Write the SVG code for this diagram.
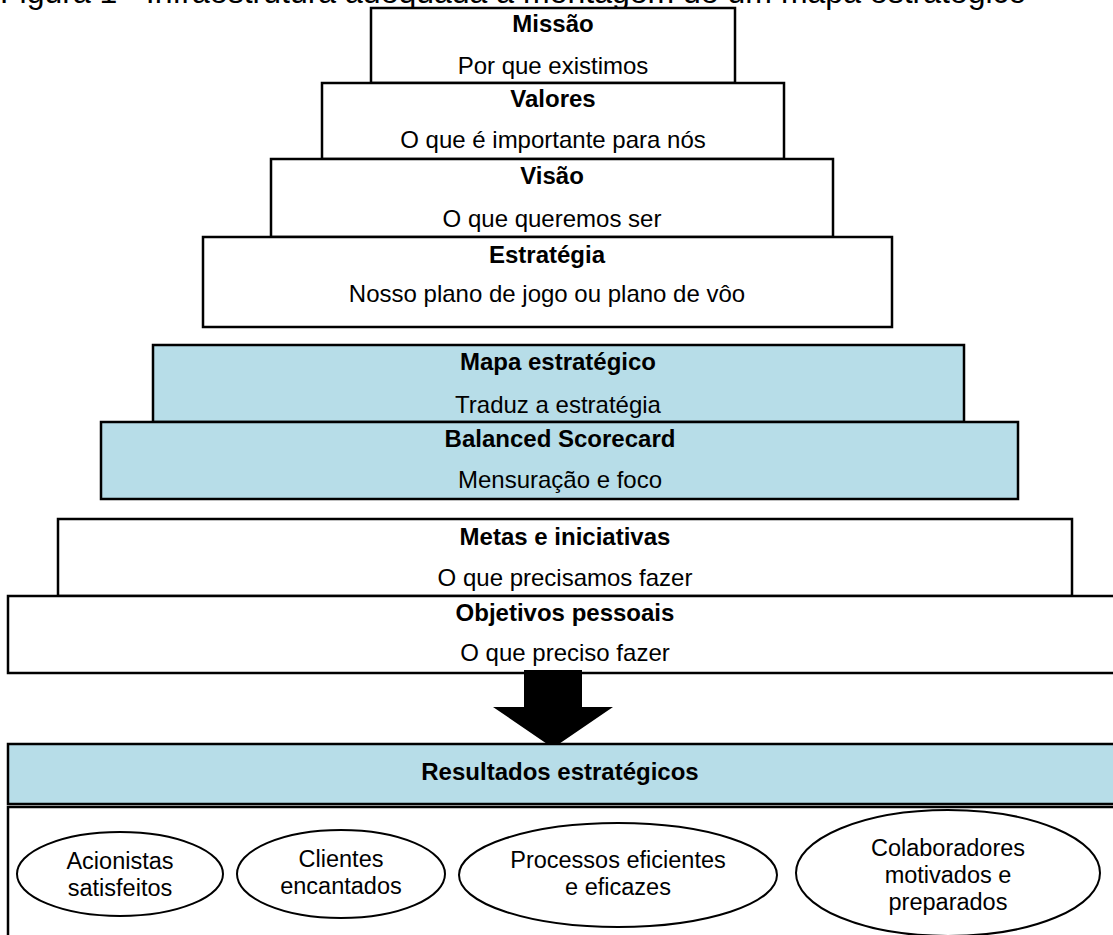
<svg xmlns="http://www.w3.org/2000/svg" width="1113" height="935" viewBox="0 0 1113 935">
  <style>
    .box { fill: #ffffff; stroke: #000000; stroke-width: 2.5; }
    .blue { fill: #b7dde8; stroke: #000000; stroke-width: 2.5; }
    .oval { fill: #ffffff; stroke: #000000; stroke-width: 2; }
    text { font-family: "Liberation Sans", Arial, sans-serif; fill: #000000; text-anchor: middle; }
    .t { font-size: 24px; font-weight: bold; }
    .s { font-size: 24px; }
    .o { font-size: 23.5px; }
    .cap { font-size: 32px; text-anchor: start; }
  </style>

  <!-- caption, partly above the top edge -->
  <text class="cap" x="0" y="3">Figura 1 - Infraestrutura adequada à montagem de um mapa estratégico</text>

  <g id="missao">
    <rect class="box" x="371" y="8" width="364" height="75"/>
    <text class="t" x="553" y="32">Missão</text>
    <text class="s" x="553" y="74">Por que existimos</text>
  </g>

  <g id="valores">
    <rect class="box" x="322" y="83" width="462" height="76"/>
    <text class="t" x="553" y="107">Valores</text>
    <text class="s" x="553" y="148">O que é importante para nós</text>
  </g>

  <g id="visao">
    <rect class="box" x="271" y="159" width="562" height="78"/>
    <text class="t" x="552" y="184">Visão</text>
    <text class="s" x="552" y="227">O que queremos ser</text>
  </g>

  <g id="estrategia">
    <rect class="box" x="203" y="237" width="689" height="90"/>
    <text class="t" x="547" y="263">Estratégia</text>
    <text class="s" x="547" y="302">Nosso plano de jogo ou plano de vôo</text>
  </g>

  <g id="mapa">
    <rect class="blue" x="153" y="345" width="811" height="77"/>
    <text class="t" x="558" y="370">Mapa estratégico</text>
    <text class="s" x="558" y="413">Traduz a estratégia</text>
  </g>

  <g id="balanced">
    <rect class="blue" x="101" y="422" width="917" height="77"/>
    <text class="t" x="560" y="447">Balanced Scorecard</text>
    <text class="s" x="560" y="488">Mensuração e foco</text>
  </g>

  <g id="metas">
    <rect class="box" x="58" y="519" width="1014" height="77"/>
    <text class="t" x="565" y="545">Metas e iniciativas</text>
    <text class="s" x="565" y="586">O que precisamos fazer</text>
  </g>

  <g id="objetivos">
    <rect class="box" x="8" y="596" width="1115" height="77"/>
    <text class="t" x="565" y="621">Objetivos pessoais</text>
    <text class="s" x="565" y="661">O que preciso fazer</text>
  </g>

  <g id="connectors">
    <polygon points="524,670 582,670 582,707 613,707 553,748 493,707 524,707" fill="#000000"/>
  </g>

  <g id="resultados">
    <rect class="blue" x="8" y="744" width="1115" height="60"/>
    <text class="t" x="560" y="780">Resultados estratégicos</text>
  </g>

  <g id="perspectivas">
    <rect class="box" x="8" y="807" width="1115" height="140"/>
  </g>

  <g id="acionistas">
    <ellipse class="oval" cx="120" cy="874" rx="103" ry="42"/>
    <text class="o" x="120" y="869">Acionistas</text>
    <text class="o" x="120" y="896">satisfeitos</text>
  </g>

  <g id="clientes">
    <ellipse class="oval" cx="341" cy="874" rx="104" ry="44"/>
    <text class="o" x="341" y="867">Clientes</text>
    <text class="o" x="341" y="894">encantados</text>
  </g>

  <g id="processos">
    <ellipse class="oval" cx="618" cy="875" rx="159" ry="52"/>
    <text class="o" x="618" y="868">Processos eficientes</text>
    <text class="o" x="618" y="895">e eficazes</text>
  </g>

  <g id="colaboradores">
    <ellipse class="oval" cx="948" cy="873" rx="152" ry="63"/>
    <text class="o" x="948" y="856">Colaboradores</text>
    <text class="o" x="948" y="883">motivados e</text>
    <text class="o" x="948" y="910">preparados</text>
  </g>
</svg>
